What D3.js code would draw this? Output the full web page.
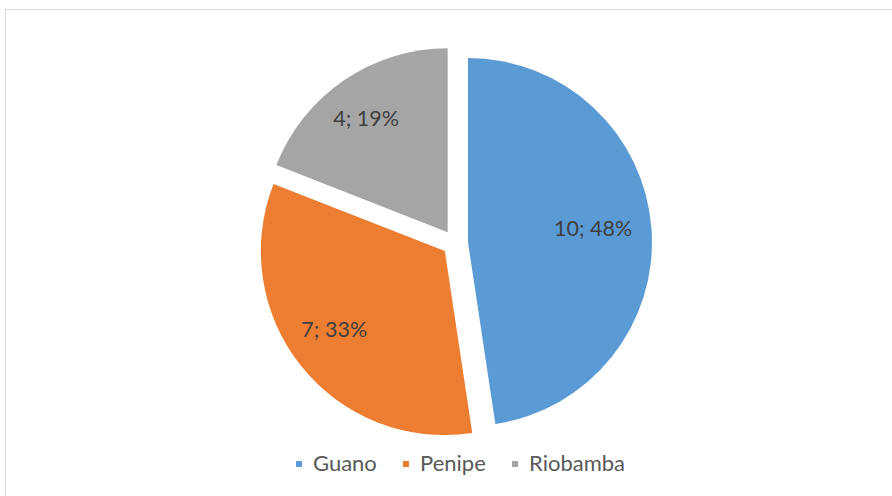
<!DOCTYPE html>
<html>
<head>
<meta charset="utf-8">
<script src="https://cdn.jsdelivr.net/npm/d3@7"></script>
<style>
  body { margin: 0; background: #fff; }
  svg { display: block; font-family: Lato, "Open Sans", sans-serif; }
</style>
</head>
<body>
<div id="chart"></div>
<script>
const categories = ['Guano', 'Penipe', 'Riobamba'];
const values = [10, 7, 4];
const percentLabels = ['48%', '33%', '19%'];
const colors = ['#5b9bd5', '#ed7d31', '#a5a5a5'];

const W = 892, H = 496;
const cx = 455, cy = 243, R = 184, explode = 13;

const svg = d3.select('#chart').append('svg')
  .attr('width', W)
  .attr('height', H);

// chart frame
svg.append('rect')
  .attr('x', 5.5).attr('y', 9.5)
  .attr('width', W + 10).attr('height', H + 10)
  .attr('fill', 'none')
  .attr('stroke', '#d9d9d9')
  .attr('stroke-width', 1);

const pie = d3.pie().sort(null).value(d => d);
const arcs = pie(values);
const arc = d3.arc().innerRadius(0).outerRadius(R);

const g = svg.append('g').attr('transform', `translate(${cx},${cy})`);

const slices = g.selectAll('g.slice')
  .data(arcs)
  .enter().append('g')
  .attr('class', 'slice')
  .attr('transform', d => {
    const a = (d.startAngle + d.endAngle) / 2;
    return `translate(${Math.sin(a) * explode},${-Math.cos(a) * explode})`;
  });

slices.append('path')
  .attr('d', arc)
  .attr('fill', (d, i) => colors[i]);

slices.append('text')
  .attr('transform', d => {
    const a = (d.startAngle + d.endAngle) / 2;
    const lr = R * 0.72;
    return `translate(${Math.sin(a) * lr - 7},${-Math.cos(a) * lr - 4})`;
  })
  .attr('text-anchor', 'middle')
  .attr('dy', '0.35em')
  .attr('fill', '#404040')
  .style('font-size', '21.5px')
  .text((d, i) => `${values[i]}; ${percentLabels[i]}`);

// legend
const legendX = [296, 403, 512];
const legend = svg.append('g');
categories.forEach((c, i) => {
  const lg = legend.append('g').attr('transform', `translate(${legendX[i]},471)`);
  lg.append('rect')
    .attr('x', 0).attr('y', -10)
    .attr('width', 6).attr('height', 6)
    .attr('fill', colors[i]);
  lg.append('text')
    .attr('x', 17)
    .attr('fill', '#595959')
    .style('font-size', '22px')
    .text(c);
});
</script>
</body>
</html>
